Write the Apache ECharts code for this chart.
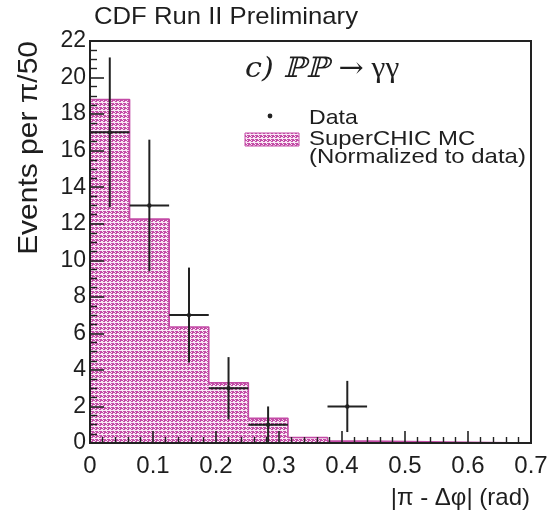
<!DOCTYPE html>
<html>
<head>
<meta charset="utf-8">
<script src="https://cdn.jsdelivr.net/npm/echarts@6/dist/echarts.min.js"></script>
<style>
html,body{margin:0;padding:0;background:#fff;}
#chart{width:551px;height:521px;}
</style>
</head>
<body>
<div id="chart"></div>
<script>
// ---- data ----
const binEdges = [0, 0.0628, 0.1257, 0.1885, 0.2513, 0.3142, 0.3770, 0.4398];
const mcValues = [18.8, 12.25, 6.35, 3.3, 1.35, 0.3, 0.1];
const dataX = [0.0314, 0.0942, 0.1571, 0.2199, 0.2827, 0.4084];
const dataY = [17, 13, 7, 3, 1, 2];
const dataErr = [4.1, 3.6, 2.6, 1.7, 1.0, 1.4];
const dataXHalf = [0.0314, 0.0314, 0.0314, 0.0314, 0.0314, 0.0314];
const xRange = [0, 0.7];
const yRange = [0, 22];

// ---- hatch-like pattern ----
function makePattern() {
  const c = document.createElement('canvas');
  c.width = 4; c.height = 4;
  const ctx = c.getContext('2d');
  const M = '#c34ba6', L = '#f8e8f4';
  const rows = ['MMML', 'MLLM', 'LLLL', 'MMLM'];
  for (let y = 0; y < 4; y++) for (let x = 0; x < 4; x++) {
    ctx.fillStyle = rows[y][x] === 'M' ? M : L;
    ctx.fillRect(x, y, 1, 1);
  }
  return c;
}
const pattern = { image: makePattern(), repeat: 'repeat' };

const histData = mcValues.map((v, i) => [binEdges[i], binEdges[i + 1], v]);
const outline = mcValues.map((v, i) => [binEdges[i], v]);
outline.push([binEdges[binEdges.length - 1], 0]);
outline.push([xRange[1], 0]);
const pts = dataX.map((x, i) => [x, dataY[i], dataErr[i], dataXHalf[i]]);

const chart = echarts.init(document.getElementById('chart'), null, { renderer: 'canvas' });
const txt = '#1e1e1e';
const font = 'Liberation Sans, Arial, sans-serif';

chart.setOption({
  animation: false,
  backgroundColor: '#fff',
  grid: { left: 90, right: 20, top: 41, bottom: 78, show: true, borderColor: '#222', borderWidth: 2, backgroundColor: 'transparent' },
  xAxis: {
    type: 'value', min: xRange[0], max: xRange[1], interval: 0.1, z: 10,
    axisLine: { show: true, onZero: false, lineStyle: { color: '#222', width: 2 } },
    axisTick: { show: true, inside: true, length: 12, lineStyle: { color: '#222', width: 1.6 } },
    minorTick: { show: true, splitNumber: 5, length: 6, lineStyle: { color: '#222', width: 1.4 } },
    splitLine: { show: false },
    axisLabel: { fontSize: 24, color: txt, fontFamily: font, margin: 11, formatter: v => v === 0 ? '0' : v.toFixed(1) }
  },
  yAxis: {
    type: 'value', min: yRange[0], max: yRange[1], interval: 2, z: 10,
    axisLine: { show: true, onZero: false, lineStyle: { color: '#222', width: 2 } },
    axisTick: { show: true, inside: true, length: 14, lineStyle: { color: '#222', width: 1.6 } },
    minorTick: { show: true, splitNumber: 4, length: 7, lineStyle: { color: '#222', width: 1.4 } },
    splitLine: { show: false },
    axisLabel: { fontSize: 23, color: txt, fontFamily: font, margin: 4 }
  },
  series: [
    {
      type: 'custom', z: 2,
      data: histData,
      encode: { x: [0, 1], y: 2 },
      renderItem: function (params, api) {
        const lo = api.value(0), hi = api.value(1), v = api.value(2);
        const p0 = api.coord([lo, v]);
        const p1 = api.coord([hi, 0]);
        return {
          type: 'rect',
          shape: { x: p0[0], y: p0[1], width: p1[0] - p0[0], height: p1[1] - p0[1] },
          style: { fill: pattern, stroke: null }
        };
      }
    },
    {
      type: 'line', z: 3, step: 'end', symbol: 'none',
      data: outline,
      lineStyle: { color: '#c34ba6', width: 1.6 }
    },
    {
      type: 'custom', z: 5,
      data: pts,
      encode: { x: 0, y: 1 },
      renderItem: function (params, api) {
        const x = api.value(0), y = api.value(1), e = api.value(2), hx = api.value(3);
        const c = api.coord([x, y]);
        const top = api.coord([x, y + e]);
        const bot = api.coord([x, Math.max(0, y - e)]);
        const l = api.coord([x - hx, y]);
        const r = api.coord([x + hx, y]);
        const st = { stroke: '#222', lineWidth: 2 };
        return {
          type: 'group',
          children: [
            { type: 'line', shape: { x1: top[0], y1: top[1], x2: bot[0], y2: bot[1] }, style: st },
            { type: 'line', shape: { x1: l[0], y1: l[1], x2: r[0], y2: r[1] }, style: st },
            { type: 'circle', shape: { cx: c[0], cy: c[1], r: 2.2 }, style: { fill: '#222' } }
          ]
        };
      }
    }
  ],
  graphic: [
    { type: 'text', x: 94, y: 5, scaleX: 1.07, style: { text: 'CDF Run II Preliminary', fontSize: 24, fontFamily: font, fill: txt } },
    { type: 'text', x: 245, y: 55, scaleX: 1.08, style: {
        text: '{a|c) ℙℙ }{b|→}{c| γγ}',
        rich: {
          a: { fontSize: 28, fontStyle: 'italic', fontFamily: 'DejaVu Serif, Liberation Serif, serif', fill: txt },
          b: { fontSize: 28, fontFamily: 'DejaVu Serif, serif', fill: txt },
          c: { fontSize: 29, fontFamily: 'Liberation Serif, DejaVu Serif, serif', fill: txt }
        } } },
    { type: 'circle', shape: { cx: 270, cy: 116, r: 2.4 }, style: { fill: '#222' } },
    { type: 'text', x: 309, y: 118.5, scaleX: 1.1, style: { text: 'Data', fontSize: 21, fontFamily: font, fill: txt, verticalAlign: 'middle' } },
    { type: 'rect', shape: { x: 245, y: 133, width: 54, height: 13 }, style: { fill: pattern, stroke: '#c34ba6', lineWidth: 1 } },
    { type: 'text', x: 309, y: 139, scaleX: 1.14, style: { text: 'SuperCHIC MC', fontSize: 21, fontFamily: font, fill: txt, verticalAlign: 'middle' } },
    { type: 'text', x: 309, y: 157.5, scaleX: 1.14, style: { text: '(Normalized to data)', fontSize: 21, fontFamily: font, fill: txt, verticalAlign: 'middle' } },
    { type: 'text', x: 530, y: 486, style: { text: '|π - Δφ| (rad)', fontSize: 24, fontFamily: font, fill: txt, align: 'right' } },
    { type: 'text', x: 15, y: 41, rotation: Math.PI / 2, scaleX: 1.07, style: { text: 'Events per π/50', fontSize: 28, fontFamily: font, fill: txt, align: 'right', verticalAlign: 'top' } }
  ]
});
</script>
</body>
</html>
